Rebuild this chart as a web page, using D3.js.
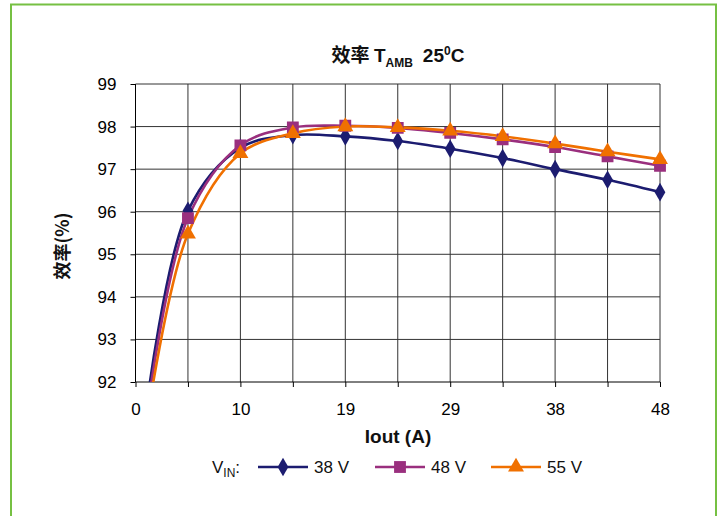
<!DOCTYPE html>
<html><head><meta charset="utf-8">
<script src="https://cdn.jsdelivr.net/npm/d3@7"></script>
<style>
body{margin:0;background:#fff;}
svg{display:block;font-family:"Liberation Sans",Arial,sans-serif;}
</style></head>
<body><svg id="c" width="720" height="516"></svg>
<script>
const iout = [1.0, 4.8, 9.6, 14.4, 19.2, 24, 28.8, 33.6, 38.4, 43.2, 48];
const v38 = [91.4, 96.02, 97.5, 97.8, 97.77, 97.66, 97.48, 97.26, 97.0, 96.75, 96.46];
const v48 = [91.2, 95.85, 97.56, 97.98, 98.02, 97.97, 97.85, 97.7, 97.52, 97.3, 97.08];
const v55 = [91.0, 95.48, 97.37, 97.84, 98.0, 97.98, 97.9, 97.77, 97.6, 97.41, 97.23];
const xTicks = [0, 4.8, 9.6, 14.4, 19.2, 24, 28.8, 33.6, 38.4, 43.2, 48];
const yTicks = [92, 93, 94, 95, 96, 97, 98, 99];
const seriesNames = ["38 V", "48 V", "55 V"];
const seriesColors = ["#1c1c70", "#9a2f7e", "#f07000"];
const seriesShapes = ["diamond", "square", "triangle"];

const svg = d3.select("#c");
svg.append("path").attr("d","M11,516 V4.5 H716 V516").attr("fill","none").attr("stroke","#76c043").attr("stroke-width",2);

const L=135.5, R=660, T=84, B=382;
const x = d3.scaleLinear().domain([0,48]).range([L,R]);
const y = d3.scaleLinear().domain([92,99]).range([B,T]);

const g = svg.append("g");
g.selectAll(".vg").data(xTicks.slice(1)).join("line")
  .attr("x1",d=>x(d)).attr("x2",d=>x(d)).attr("y1",T).attr("y2",B)
  .attr("stroke","#333").attr("stroke-width",1);
g.selectAll(".hg").data(yTicks.slice(1)).join("line")
  .attr("x1",L).attr("x2",R).attr("y1",d=>y(d)).attr("y2",d=>y(d))
  .attr("stroke","#333").attr("stroke-width",1);

const xAxis = d3.axisBottom(x).tickValues(xTicks).tickSize(5).tickPadding(16)
  .tickFormat((d,i)=> i%2===0 ? d3.format(".0f")(d) : "");
const gx = svg.append("g").attr("transform",`translate(0,${B})`).call(xAxis);
gx.select(".domain").attr("stroke","#000").attr("d",`M${L},0H${R}`);
gx.selectAll(".tick line").attr("stroke","#000");
gx.selectAll("text").attr("font-size",17).attr("fill","#000").style("font-family","'Liberation Sans',Arial,sans-serif");

const yAxis = d3.axisLeft(y).tickValues(yTicks).tickSize(5).tickPadding(14).tickFormat(d3.format("d"));
const gy = svg.append("g").attr("transform",`translate(${L},0)`).call(yAxis);
gy.select(".domain").attr("stroke","#000").attr("d",`M0,${T}V${B}`);
gy.selectAll(".tick line").attr("stroke","#000");
gy.selectAll("text").attr("font-size",17).attr("fill","#000").style("font-family","'Liberation Sans',Arial,sans-serif");

svg.append("clipPath").attr("id","clip").append("rect").attr("x",L).attr("y",T-10).attr("width",R-L+10).attr("height",B-T+10);

const symGen = {
  diamond: d3.symbol().type(d3.symbolDiamond).size(100),
  square: d3.symbol().type(d3.symbolSquare).size(140),
  triangle: d3.symbol().type(d3.symbolTriangle).size(110)
};

const allSeries = [v38, v48, v55];
const plot = svg.append("g").attr("clip-path","url(#clip)");
const line = d3.line().x((d,i)=>x(iout[i])).y(d=>y(d)).curve(d3.curveCatmullRom.alpha(0.5));
allSeries.forEach((s,k)=>{
  plot.append("path").datum(s).attr("d",line).attr("fill","none")
    .attr("stroke",seriesColors[k]).attr("stroke-width",2.6);
});
allSeries.forEach((s,k)=>{
  plot.selectAll(".m"+k).data(s).join("path")
    .attr("transform",(d,i)=>`translate(${x(iout[i])},${y(d)})`)
    .attr("d",symGen[seriesShapes[k]]).attr("fill",seriesColors[k]);
});

const title = svg.append("text").attr("x",398).attr("y",62).attr("text-anchor","middle")
  .attr("font-weight","bold").attr("font-size",19).attr("fill","#111")
  .style("font-family","'Liberation Sans','Noto Sans CJK SC',sans-serif");
title.append("tspan").style("font-family","'Noto Sans CJK SC',sans-serif").text("效率 ");
title.append("tspan").text("T");
title.append("tspan").attr("font-size",12).attr("dy",5).text("AMB");
title.append("tspan").attr("dy",-5).attr("dx",10).text("25");
title.append("tspan").attr("font-size",12).attr("dy",-7).text("0");
title.append("tspan").attr("dy",7).text("C");

svg.append("text").attr("transform","translate(69,246) rotate(-90)").attr("text-anchor","middle")
  .attr("font-weight","bold").attr("font-size",18).attr("fill","#111")
  .style("font-family","'Noto Sans CJK SC','Liberation Sans',sans-serif").text("效率(%)");

svg.append("text").attr("x",398).attr("y",443).attr("text-anchor","middle")
  .attr("font-weight","bold").attr("font-size",19).attr("fill","#111").text("Iout (A)");

const lg = svg.append("g").attr("font-size",17).attr("fill","#111");
const vin = lg.append("text").attr("x",212).attr("y",473);
vin.append("tspan").text("V");
vin.append("tspan").attr("font-size",12).attr("dy",4).text("IN");
vin.append("tspan").attr("dy",-4).text(":");
const lx = [258, 375, 491];
seriesNames.forEach((n,k)=>{
  lg.append("line").attr("x1",lx[k]).attr("x2",lx[k]+50).attr("y1",467).attr("y2",467)
    .attr("stroke",seriesColors[k]).attr("stroke-width",2.4);
  lg.append("path").attr("transform",`translate(${lx[k]+25},467)`).attr("d",symGen[seriesShapes[k]]).attr("fill",seriesColors[k]);
  lg.append("text").attr("x",lx[k]+56).attr("y",473).text(n);
});
</script></body></html>
